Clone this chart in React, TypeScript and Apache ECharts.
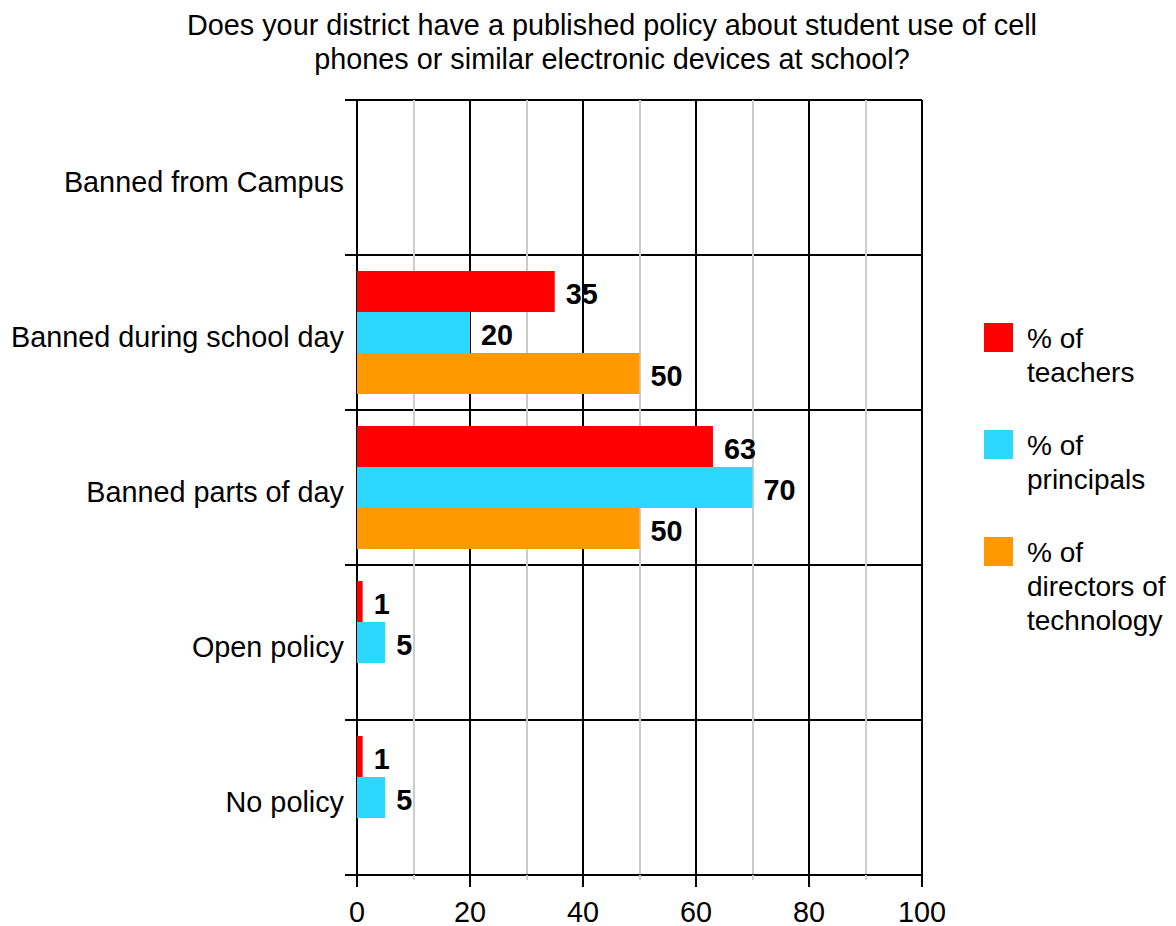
import React, { useEffect, useRef } from "react";
import * as echarts from "echarts";

const categories = [
  "Banned from Campus",
  "Banned during school day",
  "Banned parts of day",
  "Open policy",
  "No policy",
];
const teachers = [null, 35, 63, 1, 1];
const principals = [null, 20, 70, 5, 5];
const directors = [null, 50, 50, null, null];
const seriesNames = ["% of\nteachers", "% of\nprincipals", "% of\ndirectors of\ntechnology"];
const seriesColors = ["#FF0000", "#2CD8FF", "#FF9900"];
const xTicks = [0, 20, 40, 60, 80, 100];

const FONT = "Liberation Sans, Arial, sans-serif";
const FS = 28.8;

export default function App() {
  const ref = useRef<HTMLDivElement>(null);
  useEffect(() => {
    if (!ref.current) return;
    const chart = echarts.init(ref.current, null, { renderer: "svg" });
    const data = [teachers, principals, directors];
    const legendTops = [321, 428, 535];
    const legend: any[] = [];
    seriesNames.forEach((n, i) => {
      legend.push({
        type: "rect",
        shape: { x: 984, y: legendTops[i] + 2, width: 29, height: 29 },
        style: { fill: seriesColors[i] },
      });
      legend.push({
        type: "text",
        x: 1027,
        y: legendTops[i],
        style: {
          text: n,
          font: `28px ${FONT}`,
          fill: "#000",
          lineHeight: 34,
          textVerticalAlign: "top",
          verticalAlign: "top",
        },
      });
    });
    chart.setOption({
      animation: false,
      backgroundColor: "#fff",
      title: {
        text: "Does your district have a published policy about student use of cell\nphones or similar electronic devices at school?",
        left: 607,
        top: 3,
        textAlign: "center",
        textStyle: {
          fontFamily: FONT,
          fontSize: FS,
          fontWeight: "normal",
          color: "#000",
          lineHeight: 34,
        },
      },
      grid: { left: 357, right: 254, top: 100, bottom: 48, containLabel: false },
      xAxis: {
        type: "value",
        min: xTicks[0],
        max: xTicks[xTicks.length - 1],
        interval: 20,
        axisLine: { show: true, lineStyle: { color: "#000", width: 2 } },
        axisTick: { show: true, length: 12, lineStyle: { color: "#000", width: 2 } },
        minorTick: { show: true, splitNumber: 2, length: 5, lineStyle: { color: "#ccc", width: 2 } },
        splitLine: { show: true, lineStyle: { color: "#000", width: 2 } },
        minorSplitLine: { show: true, lineStyle: { color: "#ccc", width: 2 } },
        axisLabel: { fontFamily: FONT, fontSize: FS, color: "#000", margin: 22 },
      },
      yAxis: {
        type: "category",
        data: categories,
        inverse: true,
        axisLine: { show: true, lineStyle: { color: "#000", width: 2 } },
        axisTick: { show: true, length: 12, lineStyle: { color: "#000", width: 2 } },
        splitLine: { show: true, lineStyle: { color: "#000", width: 2 } },
        axisLabel: {
          margin: 13,
          formatter: (v: string) => `{a|${v}}`,
          rich: {
            a: {
              fontFamily: FONT,
              fontSize: FS,
              color: "#000",
              padding: [8, 0, 0, 0],
            },
          },
        },
      },
      graphic: legend,
      series: data.map((d, i) => ({
        type: "bar",
        name: seriesNames[i],
        data: d,
        barWidth: 41,
        barGap: "0%",
        itemStyle: { color: seriesColors[i] },
        label: {
          show: true,
          position: "right",
          distance: 11,
          offset: [0, 2],
          fontFamily: FONT,
          fontSize: FS,
          fontWeight: "bold",
          color: "#000",
        },
      })),
    });
    return () => chart.dispose();
  }, []);
  return (
    <div
      ref={ref}
      style={{ position: "absolute", left: 0, top: 0, width: 1176, height: 926 }}
    />
  );
}
